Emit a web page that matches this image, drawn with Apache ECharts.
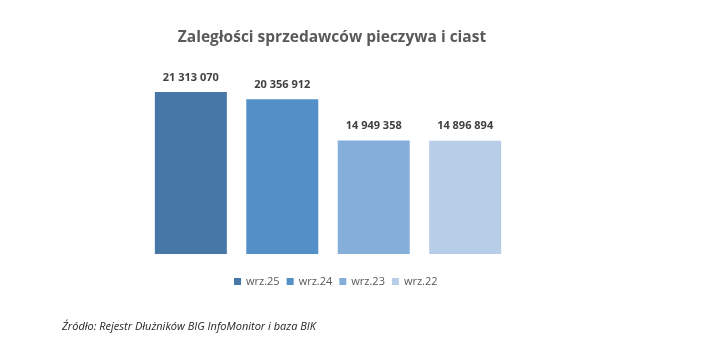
<!DOCTYPE html>
<html>
<head>
<meta charset="utf-8">
<script src="https://cdn.jsdelivr.net/npm/echarts@6/dist/echarts.min.js"></script>
<style>
  html, body { margin: 0; padding: 0; background: #fff; }
  #chart { width: 707px; height: 351px; }
</style>
</head>
<body>
<div id="chart"></div>
<script>
// dane z wykresu
var categories = ['Zaległości'];
var seriesNames = ['wrz.25', 'wrz.24', 'wrz.23', 'wrz.22'];
var seriesValues = [21313070, 20356912, 14949358, 14896894];
var colors = ['#4677A6', '#5490C8', '#86AEDB', '#B8CDE8'];

function fmt(v) {
  return String(v).replace(/\B(?=(\d{3})+(?!\d))/g, ' ');
}

var chart = echarts.init(document.getElementById('chart'));
var option = {
  animation: false,
  color: colors,
  title: {
    text: 'Zaległości sprzedawców pieczywa i ciast',
    left: 327,
    textAlign: 'center',
    top: 25,
    textStyle: {
      fontFamily: 'Open Sans',
      fontSize: 15.5,
      fontWeight: 'bold',
      color: '#595959'
    }
  },
  legend: {
    data: seriesNames,
    left: 229,
    top: 271,
    itemWidth: 7,
    itemHeight: 7,
    itemGap: 7,
    icon: 'rect',
    textStyle: {
      fontFamily: 'Open Sans',
      fontSize: 11,
      color: '#595959'
    }
  },
  grid: {
    left: 140,
    width: 376,
    top: 64,
    height: 190
  },
  xAxis: {
    type: 'category',
    data: categories,
    show: false
  },
  yAxis: {
    type: 'value',
    min: 0,
    max: 25000000,
    show: false
  },
  series: seriesNames.map(function (name, i) {
    return {
      name: name,
      type: 'bar',
      barWidth: 72,
      barGap: '27%',
      data: [seriesValues[i]],
      label: {
        show: true,
        position: 'top',
        distance: 9,
        formatter: function (p) { return fmt(p.value); },
        fontFamily: 'Open Sans',
        fontSize: 11,
        fontWeight: 'bold',
        color: '#404040'
      }
    };
  }),
  graphic: [{
    type: 'text',
    left: 62,
    top: 321,
    style: {
      text: 'Źródło: Rejestr Dłużników BIG InfoMonitor i baza BIK',
      fontFamily: 'Open Sans',
      fontSize: 11,
      fontStyle: 'italic',
      fill: '#262626'
    }
  }]
};
chart.setOption(option);
</script>
</body>
</html>
